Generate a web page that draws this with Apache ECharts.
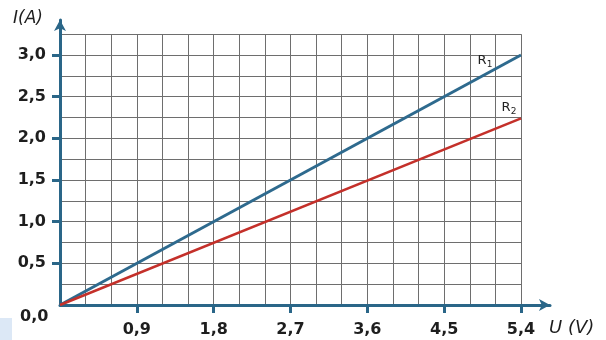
<!DOCTYPE html>
<html>
<head>
<meta charset="utf-8">
<script src="https://cdn.jsdelivr.net/npm/echarts@6/dist/echarts.min.js"></script>
<style>
html,body{margin:0;padding:0;background:#fff;}
#chart{width:606px;height:340px;}
</style>
</head>
<body>
<div id="chart"></div>
<script>
// ---- data ----
const voltage = [0, 5.4];
const currentR1 = [0, 3.0];
const currentR2 = [0, 2.24];
const xTickValues = [0.9, 1.8, 2.7, 3.6, 4.5, 5.4];
const xTickLabels = ['0,9', '1,8', '2,7', '3,6', '4,5', '5,4'];
const yTickValues = [0.5, 1.0, 1.5, 2.0, 2.5, 3.0];
const yTickLabels = ['0,5', '1,0', '1,5', '2,0', '2,5', '3,0'];
const originLabel = '0,0';
const xAxisTitle = 'U (V)';
const yAxisTitle = 'I(A)';
const seriesNames = [['R', '1'], ['R', '2']];
const gridXMax = 5.4, gridXStep = 0.3;
const gridYMax = 3.25, gridYStep = 0.25;

// ---- layout ----
const W = 606, H = 340;
const X0 = 60, Y0 = 305;           // origin pixel
const xPer = (521 - 60) / 5.4;      // px per volt
const yPer = (305 - 55) / 3.0;      // px per ampere
const axisEndX = 550, axisEndY = 20;
const xMaxAxis = (axisEndX - X0) / xPer;
const yMaxAxis = (Y0 - axisEndY) / yPer;

const AXIS = '#2a6688';
const TXT = '#1e1e1e';
const FONT = 'DejaVu Sans';

const fmtX = v => { const i = xTickValues.findIndex(t => Math.abs(t - v) < 1e-6); return i >= 0 ? xTickLabels[i] : ''; };
const fmtY = v => { const i = yTickValues.findIndex(t => Math.abs(t - v) < 1e-6); return i >= 0 ? yTickLabels[i] : ''; };

const pairs = (xs, ys) => xs.map((x, i) => [x, ys[i]]);
function withEndLabel(pts, name, offset) {
  return pts.map((p, i) => i === pts.length - 1 ? {
    value: p,
    label: {
      show: true, position: 'inside', offset: offset,
      formatter: '{r|' + name[0] + '}{s|' + name[1] + '}',
      rich: {
        r: { fontSize: 13, fontFamily: 'DejaVu Sans', color: '#222' },
        s: { fontSize: 9, fontFamily: 'DejaVu Sans', color: '#222', padding: [8, 0, 0, 0] }
      }
    }
  } : { value: p });
}

const chart = echarts.init(document.getElementById('chart'), null, { renderer: 'canvas' });
chart.setOption({
  animation: false,
  backgroundColor: '#fff',
  grid: [
    { left: X0, right: W - (X0 + gridXMax * xPer), bottom: H - Y0, top: Y0 - gridYMax * yPer, containLabel: false },
    { left: X0, right: W - axisEndX, bottom: H - Y0, top: axisEndY, containLabel: false }
  ],
  xAxis: [
    { type: 'value', gridIndex: 0, min: 0, max: gridXMax, interval: gridXStep,
      axisLine: { show: false }, axisTick: { show: false }, axisLabel: { show: false },
      splitLine: { show: true, lineStyle: { color: '#6e6e6e', width: 1 } } },
    { type: 'value', gridIndex: 1, min: 0, max: xMaxAxis,
      axisLine: { show: true, symbol: ['none', 'arrow'], symbolSize: [9, 11], lineStyle: { color: AXIS, width: 3 } },
      axisTick: { show: true, customValues: xTickValues, length: 8, lineStyle: { color: AXIS, width: 3 } },
      axisLabel: { show: true, customValues: xTickValues, formatter: fmtX, margin: 17, color: TXT, fontSize: 16, fontWeight: 'bold', fontFamily: FONT },
      splitLine: { show: false } },
    { type: 'value', gridIndex: 1, min: 0, max: xMaxAxis,
      axisLine: { show: false },
      axisTick: { show: true, inside: true, customValues: xTickValues, length: 8, lineStyle: { color: AXIS, width: 3 } },
      axisLabel: { show: false }, splitLine: { show: false } }
  ],
  yAxis: [
    { type: 'value', gridIndex: 0, min: 0, max: gridYMax, interval: gridYStep,
      axisLine: { show: false }, axisTick: { show: false }, axisLabel: { show: false },
      splitLine: { show: true, lineStyle: { color: '#6e6e6e', width: 1 } } },
    { type: 'value', gridIndex: 1, min: 0, max: yMaxAxis,
      axisLine: { show: true, symbol: ['none', 'arrow'], symbolSize: [9, 11], lineStyle: { color: AXIS, width: 3 } },
      axisTick: { show: true, customValues: yTickValues, length: 8, lineStyle: { color: AXIS, width: 3 } },
      axisLabel: { show: true, customValues: yTickValues, formatter: fmtY, margin: 14, color: TXT, fontSize: 16, fontWeight: 'bold', fontFamily: FONT },
      splitLine: { show: false } },
    { type: 'value', gridIndex: 1, min: 0, max: yMaxAxis,
      axisLine: { show: false },
      axisTick: { show: true, inside: true, customValues: yTickValues, length: 8, lineStyle: { color: AXIS, width: 3 } },
      axisLabel: { show: false }, splitLine: { show: false } }
  ],
  series: [
    { type: 'line', name: 'R1', xAxisIndex: 0, yAxisIndex: 0, z: 5,
      data: withEndLabel(pairs(voltage, currentR1), seriesNames[0], [-36, 6]),
      showSymbol: true, symbol: 'circle', symbolSize: 1, itemStyle: { color: 'rgba(0,0,0,0)' },
      lineStyle: { color: '#2e6a8e', width: 3 } },
    { type: 'line', name: 'R2', xAxisIndex: 0, yAxisIndex: 0, z: 5,
      data: withEndLabel(pairs(voltage, currentR2), seriesNames[1], [-12, -11]),
      showSymbol: true, symbol: 'circle', symbolSize: 1, itemStyle: { color: 'rgba(0,0,0,0)' },
      lineStyle: { color: '#c4302a', width: 2.5 } }
  ],
  graphic: [
    { type: 'rect', left: 0, top: 318, shape: { width: 12, height: 22 }, style: { fill: '#dce8f6' }, z: 0 },
    { type: 'text', left: 20, top: 309, style: { text: originLabel, fill: TXT, font: 'bold 16px "DejaVu Sans"' } },
    { type: 'text', left: 13, top: 10, style: { text: yAxisTitle, fill: TXT, font: 'oblique 17px "DejaVu Sans"' } },
    { type: 'text', left: 549, top: 319, style: { text: xAxisTitle, fill: TXT, font: 'oblique 18px "DejaVu Sans"' } }
  ]
});
</script>
</body>
</html>
